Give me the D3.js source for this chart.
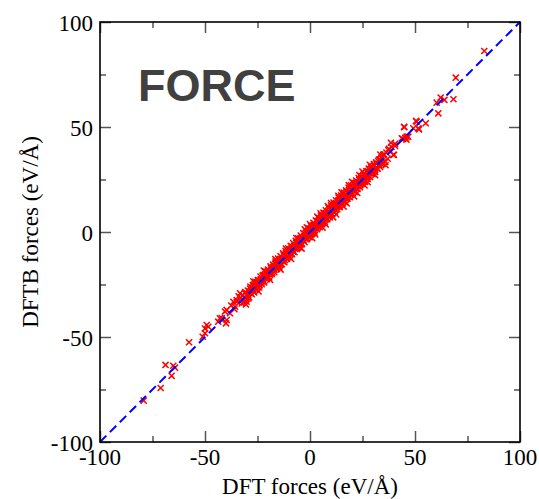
<!DOCTYPE html>
<html>
<head>
<meta charset="utf-8">
<script src="https://cdn.jsdelivr.net/npm/d3@7"></script>
<style>
  html, body { margin: 0; padding: 0; background: #fff; }
  svg { display: block; }
</style>
</head>
<body>
<svg id="chart" width="539" height="499"></svg>
<script>
// Axis ticks
const majorTicks = [-100, -50, 0, 50, 100];
const minorTicks = [-75, -25, 25, 75];

// Force components: [DFT, DFTB] in eV/Å
const lowerTail = [
  [-79.2,-80.3],[-71.1,-74.3],[-65.9,-68.5],[-68.8,-63.3],[-65.1,-63.7],[-64.3,-64.6],
  [-57.6,-52.5],[-50.0,-48.2],[-51.1,-49.9],[-48.4,-45.1],[-49.2,-44.3],[-50.0,-46.0],
  [-42.9,-41.1],[-43.7,-42.7],[-40.0,-43.5],[-42.0,-41.0],[-39.7,-37.1],[-38.1,-38.7],
  [-35.7,-35.6],[-34.9,-33.2],[-40.5,-37.9],[-39.7,-41.9],[-36.5,-33.2],[-34.9,-32.4],
  [-30.2,-33.2],[-29.4,-30.0],[-33.3,-29.2],[-33.0,-31.5],[-32.5,-34.0],[-31.0,-29.0],
  [-36.0,-36.8],[-37.5,-35.0],[-34.0,-30.6],[-30.5,-34.5],[-29.4,-31.6]
];

const bandAbove = [
  [-32.0,-30.1],[-30.8,-28.6],[-29.6,-27.9],[-28.4,-26.0],[-27.2,-25.3],[-26.0,-23.7],
  [-24.8,-22.9],[-23.6,-21.2],[-22.4,-20.5],[-21.2,-18.7],[-20.0,-17.9],[-18.8,-16.4],
  [-17.6,-15.5],[-16.4,-14.0],[-15.2,-12.6],[-14.0,-11.5],[-12.8,-10.2],[-11.6,-9.1],
  [-10.4,-7.8],[-9.2,-6.6],[-8.0,-5.3],[-6.8,-4.2],[-5.6,-3.0],[-4.4,-1.7],[-3.2,-0.5],
  [-2.0,0.7],[-0.8,1.9],[0.4,3.1],[1.6,4.4],[2.8,5.5],[4.0,6.8],[5.2,7.9],[6.4,9.2],
  [7.6,10.3],[8.8,11.6],[10.0,12.7],[11.2,14.0],[12.4,15.1],[13.6,16.4],[14.8,17.4],
  [16.0,18.8],[17.2,19.8],[18.4,21.1],[19.6,22.2],[20.8,23.4],[22.0,24.5],[23.2,25.7],
  [24.4,26.6],[25.6,27.9],[26.8,28.9],[28.0,30.2],[29.2,31.0],[30.4,32.3],[31.6,33.2],
  [32.8,34.5],[34.0,35.4],[35.2,37.0],[36.4,37.8],[37.6,39.6],[38.8,40.5]
];

const bandBelow = [
  [-31.4,-33.5],[-30.2,-32.0],[-29.0,-31.1],[-27.8,-29.6],[-26.6,-28.8],[-25.4,-27.3],
  [-24.2,-26.4],[-23.0,-24.9],[-21.8,-24.0],[-20.6,-22.5],[-19.4,-21.6],[-18.2,-20.0],
  [-17.0,-19.1],[-15.8,-17.6],[-14.6,-16.7],[-13.4,-15.3],[-12.2,-14.4],[-11.0,-12.8],
  [-9.8,-12.0],[-8.6,-10.5],[-7.4,-9.6],[-6.2,-8.1],[-5.0,-7.3],[-3.8,-5.8],[-2.6,-4.9],
  [-1.4,-3.4],[-0.2,-2.5],[1.0,-1.0],[2.2,-0.2],[3.4,1.3],[4.6,2.3],[5.8,3.7],[7.0,4.6],
  [8.2,6.1],[9.4,7.0],[10.6,8.5],[11.8,9.4],[13.0,10.9],[14.2,11.8],[15.4,13.3],
  [16.6,14.2],[17.8,15.7],[19.0,16.6],[20.2,18.1],[21.4,19.0],[22.6,20.5],[23.8,21.4],
  [25.0,22.9],[26.2,23.8],[27.4,25.3],[28.6,26.2],[29.8,27.7],[31.0,28.6],[32.2,30.1],
  [33.4,31.0],[34.6,32.5],[35.8,33.4],[37.0,34.9]
];

const bandCore = [
  [-29.8,-29.5],[-29.0,-28.2],[-28.2,-28.9],[-27.4,-26.6],[-26.6,-26.1],[-25.8,-25.9],
  [-25.0,-24.0],[-24.2,-24.6],[-23.4,-22.7],[-22.6,-22.9],[-21.8,-21.0],[-21.0,-21.6],
  [-20.2,-19.4],[-19.4,-19.8],[-18.6,-17.9],[-17.8,-18.3],[-17.0,-16.2],[-16.2,-16.7],
  [-15.4,-14.8],[-14.6,-15.1],[-13.8,-13.1],[-13.0,-13.4],[-12.2,-11.5],[-11.4,-11.8],
  [-10.6,-9.9],[-9.8,-10.3],[-9.0,-8.2],[-8.2,-8.6],[-7.4,-6.7],[-6.6,-7.0],[-5.8,-5.1],
  [-5.0,-5.4],[-4.2,-3.6],[-3.4,-3.8],[-2.6,-2.0],[-1.8,-2.2],[-1.0,-0.4],[-0.2,-0.6],
  [0.6,1.2],[1.4,1.0],[2.2,2.8],[3.0,2.6],[3.8,4.4],[4.6,4.3],[5.4,6.0],[6.2,5.9],
  [7.0,7.6],[7.8,7.5],[8.6,9.2],[9.4,9.1],[10.2,10.8],[11.0,10.7],[11.8,12.4],[12.6,12.3],
  [13.4,14.0],[14.2,13.8],[15.0,15.6],[15.8,15.4],[16.6,17.2],[17.4,17.0],[18.2,18.8],
  [19.0,18.7],[19.8,20.4],[20.6,20.3],[21.4,22.0],[22.2,21.9],[23.0,23.6],[23.8,23.5],
  [24.6,25.2],[25.4,25.0],[26.2,26.8],[27.0,26.6],[27.8,28.4],[28.6,28.1],[29.4,30.0],
  [30.2,29.8]
];

const bandUpperMid = [
  [-28.5,-27.0],[-27.5,-26.7],[-26.5,-25.0],[-25.5,-24.7],[-24.5,-23.0],[-23.5,-22.6],
  [-22.5,-21.0],[-21.5,-20.6],[-20.5,-19.0],[-19.5,-18.7],[-18.5,-17.0],[-17.5,-16.7],
  [-16.5,-15.0],[-15.5,-14.6],[-14.5,-13.0],[-13.5,-12.7],[-12.5,-11.0],[-11.5,-10.7],
  [-10.5,-9.0],[-9.5,-8.7],[-8.5,-7.0],[-7.5,-6.6],[-6.5,-5.0],[-5.5,-4.7],[-4.5,-3.0],
  [-3.5,-2.7],[-2.5,-1.0],[-1.5,-0.6],[-0.5,1.0],[0.5,1.3],[1.5,3.0],[2.5,3.4],[3.5,5.0],
  [4.5,5.3],[5.5,7.0],[6.5,7.4],[7.5,9.0],[8.5,9.3],[9.5,11.0],[10.5,11.4],[11.5,13.0],
  [12.5,13.3],[13.5,15.0],[14.5,15.4],[15.5,17.0],[16.5,17.3],[17.5,19.0],[18.5,19.4],
  [19.5,21.0],[20.5,21.3],[21.5,23.0],[22.5,23.4],[23.5,25.0],[24.5,25.3],[25.5,27.0],
  [26.5,27.4],[27.5,29.0],[28.5,29.3],[29.5,31.0],[30.5,31.4],[31.5,32.6],[32.5,33.8],
  [33.5,34.5],[34.5,35.9]
];

const bandLowerMid = [
  [-28.0,-29.4],[-27.0,-28.0],[-26.0,-27.4],[-25.0,-26.0],[-24.0,-25.4],[-23.0,-24.0],
  [-22.0,-23.4],[-21.0,-22.0],[-20.0,-21.4],[-19.0,-20.0],[-18.0,-19.4],[-17.0,-18.0],
  [-16.0,-17.4],[-15.0,-16.0],[-14.0,-15.4],[-13.0,-14.0],[-12.0,-13.4],[-11.0,-12.0],
  [-10.0,-11.4],[-9.0,-10.0],[-8.0,-9.4],[-7.0,-8.0],[-6.0,-7.4],[-5.0,-6.0],[-4.0,-5.4],
  [-3.0,-4.0],[-2.0,-3.4],[-1.0,-2.0],[0.0,-1.4],[1.0,0.0],[2.0,0.6],[3.0,2.0],[4.0,2.6],
  [5.0,4.0],[6.0,4.6],[7.0,6.0],[8.0,6.6],[9.0,8.0],[10.0,8.6],[11.0,10.0],[12.0,10.6],
  [13.0,12.0],[14.0,12.6],[15.0,14.0],[16.0,14.6],[17.0,16.0],[18.0,16.6],[19.0,18.0],
  [20.0,18.6],[21.0,20.0],[22.0,20.6],[23.0,22.0],[24.0,22.6],[25.0,24.0],[26.0,24.6],
  [27.0,26.0],[28.0,26.6],[29.0,28.0],[30.0,28.6],[31.0,30.0],[32.0,30.4],[33.0,32.0],
  [34.0,32.3]
];

const bandFringe = [
  [-27.0,-23.5],[-24.5,-28.3],[-22.0,-18.4],[-19.0,-22.8],[-16.5,-12.9],[-14.0,-17.9],
  [-11.5,-7.9],[-9.0,-12.8],[-6.5,-2.9],[-4.0,-7.9],[-1.5,2.2],[1.0,-2.9],[3.5,7.3],
  [6.0,2.1],[8.5,12.3],[11.0,7.0],[13.5,17.2],[16.0,12.1],[18.5,22.3],[21.0,17.0],
  [23.5,27.1],[26.0,22.2],[28.5,32.0],[31.0,27.1],[33.5,36.9],[36.0,31.8],[38.5,42.5],
  [40.0,36.8],[0.0,3.8],[2.5,-1.2],[-2.5,1.3],[5.0,8.9],[7.5,3.6],[10.0,13.8],[12.5,8.4],
  [15.0,18.9],[17.5,13.6],[20.0,23.9],[22.5,18.6],[25.0,28.8],[27.5,23.7]
];

const upperTail = [
  [40.5,42.0],[40.5,41.0],[37.3,39.0],[34.9,36.7],[39.7,36.7],[35.7,33.5],[44.8,50.1],
  [46.0,45.4],[43.7,44.6],[50.8,52.5],[51.6,49.4],[44.9,49.9],[49.2,49.4],[51.9,48.9],
  [55.1,51.8],[50.5,52.9],[46.8,45.4],[44.4,44.3],[45.4,44.8],[45.9,44.0],[61.1,56.5],
  [60.3,61.6],[62.2,64.0],[64.0,62.9],[68.3,63.2],[69.4,73.5],[83.0,86.2]
];

const forces = [].concat(lowerTail, bandAbove, bandBelow, bandCore,
  bandUpperMid, bandLowerMid, bandFringe, upperTail);

const svg = d3.select("#chart");
const plot = { left: 100, right: 520, top: 22, bottom: 442 };
const serif = "'Liberation Serif', 'Times New Roman', serif";

const x = d3.scaleLinear().domain([-100, 100]).range([plot.left, plot.right]);
const y = d3.scaleLinear().domain([-100, 100]).range([plot.bottom, plot.top]);

// Inward ticks on all four sides
function tickLayer(axis, transform, values, size) {
  const g = svg.append("g")
    .attr("transform", transform)
    .call(axis.tickValues(values).tickSize(-size).tickFormat(""));
  g.select(".domain").remove();
  g.selectAll("line").attr("stroke", "#555").attr("stroke-width", 1.5);
  return g;
}
tickLayer(d3.axisBottom(x), `translate(0,${plot.bottom})`, majorTicks, 11);
tickLayer(d3.axisBottom(x), `translate(0,${plot.bottom})`, minorTicks, 6);
tickLayer(d3.axisTop(x), `translate(0,${plot.top})`, majorTicks, 11);
tickLayer(d3.axisTop(x), `translate(0,${plot.top})`, minorTicks, 6);
tickLayer(d3.axisLeft(y), `translate(${plot.left},0)`, majorTicks, 11);
tickLayer(d3.axisLeft(y), `translate(${plot.left},0)`, minorTicks, 6);
tickLayer(d3.axisRight(y), `translate(${plot.right},0)`, majorTicks, 11);
tickLayer(d3.axisRight(y), `translate(${plot.right},0)`, minorTicks, 6);

// Tick labels
svg.append("g").selectAll("text").data(majorTicks).join("text")
  .attr("x", d => x(d)).attr("y", plot.bottom + 23)
  .attr("text-anchor", "middle")
  .attr("font-family", serif).attr("font-size", 23).attr("fill", "#000")
  .text(d => d);
svg.append("g").selectAll("text").data(majorTicks).join("text")
  .attr("x", plot.left - 7).attr("y", d => y(d) + 9)
  .attr("text-anchor", "end")
  .attr("font-family", serif).attr("font-size", 23).attr("fill", "#000")
  .text(d => d);

// Axis titles
svg.append("text")
  .attr("x", (plot.left + plot.right) / 2).attr("y", 494)
  .attr("text-anchor", "middle")
  .attr("font-family", serif).attr("font-size", 23).attr("fill", "#000")
  .text("DFT forces (eV/Å)");
svg.append("text")
  .attr("transform", `translate(38,${(plot.top + plot.bottom) / 2}) rotate(-90)`)
  .attr("text-anchor", "middle")
  .attr("font-family", serif).attr("font-size", 23).attr("fill", "#000")
  .text("DFTB forces (eV/Å)");

// Scatter markers (x shapes)
const cross = d3.symbol().type(d3.symbolX).size(26);
svg.append("g").selectAll("path").data(forces).join("path")
  .attr("transform", d => `translate(${x(d[0])},${y(d[1])})`)
  .attr("d", cross)
  .attr("fill", "none")
  .attr("stroke", "#ff0000")
  .attr("stroke-width", 1.5);

// y = x reference line
svg.append("line")
  .attr("x1", x(-100)).attr("y1", y(-100))
  .attr("x2", x(100)).attr("y2", y(100))
  .attr("stroke", "#0000ff").attr("stroke-width", 2)
  .attr("stroke-dasharray", "9,5");

// Frame
svg.append("rect")
  .attr("x", plot.left).attr("y", plot.top)
  .attr("width", plot.right - plot.left).attr("height", plot.bottom - plot.top)
  .attr("fill", "none").attr("stroke", "#000").attr("stroke-width", 1.6);

// Title inside the plot
svg.append("text")
  .attr("x", 138).attr("y", 101)
  .attr("font-family", "'Liberation Sans', Arial, sans-serif")
  .attr("font-weight", "bold").attr("font-size", 45)
  .attr("fill", "#404040")
  .text("FORCE");
</script>
</body>
</html>
